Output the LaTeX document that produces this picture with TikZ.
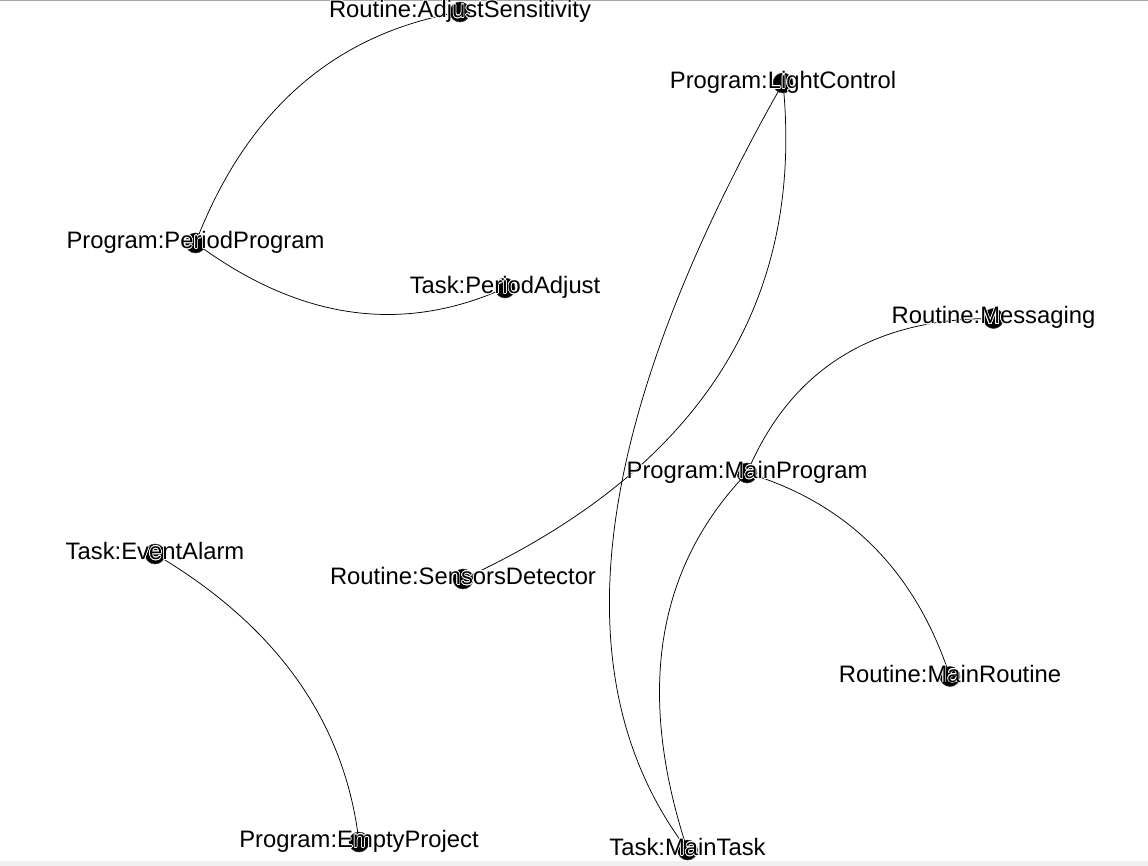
\documentclass[tikz,border=0pt]{standalone}
\usepackage{fontspec}
\setmainfont{Liberation Sans}
\usepackage[copies]{contour}
\contourlength{0.6pt}
\contournumber{16}
\usetikzlibrary{calc}
\pgfdeclarelayer{edges}
\pgfsetlayers{edges,main}
\newcommand\quadedge[3]{%
  \begin{pgfonlayer}{edges}
  \draw[edge] (#1.center) .. controls ($(#1.center)!0.6667!(#3)$) and ($(#2.center)!0.6667!(#3)$) .. (#2.center);
  \end{pgfonlayer}}
\tikzset{
  dot/.style={circle, fill=black, draw=black!80, line width=0.5pt, minimum size=20pt, inner sep=0pt},
  lbl/.style={anchor=base, inner sep=0pt, text=black, font=\fontsize{23.8}{28}\selectfont},
  edge/.style={draw=black, line width=0.75pt},
}
\begin{document}
\begin{tikzpicture}[x=1pt,y=1pt]
\useasboundingbox (0,0) rectangle (1148,-866);
\begin{pgfonlayer}{edges}
\fill[white] (0,0) rectangle (1148,-866);
\draw[black!35, line width=1pt] (0,-0.5) -- (1148,-0.5);
\fill[black!6] (0,-861) rectangle (1148,-866);
\end{pgfonlayer}

% nodes (circles)
\node[dot] (adj) at (460,-12) {};
\node[dot] (light) at (783,-83) {};
\node[dot] (perprog) at (195.5,-243) {};
\node[dot] (peradj) at (505,-288) {};
\node[dot] (msg) at (993.5,-318.5) {};
\node[dot] (mainprog) at (747,-473) {};
\node[dot] (event) at (155,-554) {};
\node[dot] (sensors) at (463,-579) {};
\node[dot] (mainrout) at (950,-676.5) {};
\node[dot] (empty) at (359,-842) {};
\node[dot] (maintask) at (687.5,-850) {};

% control points of the curves
\coordinate (q1) at (272,-44);
\coordinate (q2) at (350,-358);
\coordinate (q3) at (816,-416);
\coordinate (q4) at (812,-318);
\coordinate (q5) at (898,-518);
\coordinate (q6) at (610,-615);
\coordinate (q7) at (338,-662);
\coordinate (q8) at (493,-594);

% edges
\quadedge{adj}{perprog}{q1}
\quadedge{perprog}{peradj}{q2}
\quadedge{light}{sensors}{q3}
\quadedge{mainprog}{msg}{q4}
\quadedge{mainprog}{mainrout}{q5}
\quadedge{mainprog}{maintask}{q6}
\quadedge{event}{empty}{q7}
\quadedge{light}{maintask}{q8}

% labels
\node[lbl] (adjT) at ([yshift=-5.5pt]adj.center) {\contour{white}{Routine:AdjustSensitivity}};
\node[lbl] (lightT) at ([yshift=-5.5pt]light.center) {\contour{white}{Program:LightControl}};
\node[lbl] (perprogT) at ([yshift=-5.5pt]perprog.center) {\contour{white}{Program:PeriodProgram}};
\node[lbl] (peradjT) at ([yshift=-5.5pt]peradj.center) {\contour{white}{Task:PeriodAdjust}};
\node[lbl] (msgT) at ([yshift=-5.5pt]msg.center) {\contour{white}{Routine:Messaging}};
\node[lbl] (mainprogT) at ([yshift=-5.5pt]mainprog.center) {\contour{white}{Program:MainProgram}};
\node[lbl] (eventT) at ([yshift=-5.5pt]event.center) {\contour{white}{Task:EventAlarm}};
\node[lbl] (sensorsT) at ([yshift=-5.5pt]sensors.center) {\contour{white}{Routine:SensorsDetector}};
\node[lbl] (mainroutT) at ([yshift=-5.5pt]mainrout.center) {\contour{white}{Routine:MainRoutine}};
\node[lbl] (emptyT) at ([yshift=-5.5pt]empty.center) {\contour{white}{Program:EmptyProject}};
\node[lbl] (maintaskT) at ([yshift=-5.5pt]maintask.center) {\contour{white}{Task:MainTask}};
\end{tikzpicture}
\end{document}
